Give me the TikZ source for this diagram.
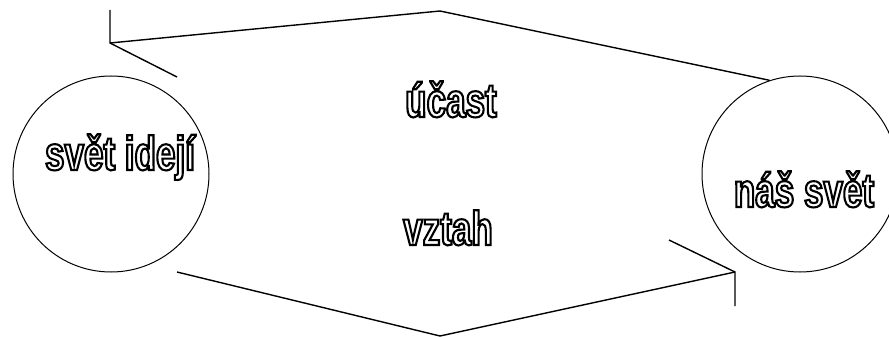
\documentclass[tikz,border=0pt]{standalone}
\usepackage{fontspec}
\newfontfamily\hollowfont{Liberation Sans}[FakeStretch=0.73]
\newcommand{\outlined}[1]{\special{pdf:literal 1 Tr 2.1 w}#1\special{pdf:literal 0 Tr}}

\begin{document}
\begin{tikzpicture}[
    x=1pt, y=-1pt, line width=1.4pt, line join=miter,
    world/.style={circle, draw, line width=1pt, minimum size=196pt, inner sep=0pt},
    hollow/.style={font=\hollowfont\bfseries\fontsize{48pt}{52pt}\selectfont, inner sep=0pt, anchor=base}
]
    \clip (0,0) rectangle (889,337);

    \node[world] (ideas) at (111,174) {};
    \node[world] (ours) at (800,174) {};

    \node[hollow] (ideastext) at (120,170) {\outlined{svět idejí}};
    \node[hollow] (ourstext) at (804,207) {\outlined{náš svět}};
    \node[hollow] (part) at (451,117) {\outlined{účast}};
    \node[hollow] (rel) at (448,245) {\outlined{vztah}};

    % upper connector, pointing to the ideas
    \coordinate (top) at (440,11);
    \coordinate (tipa) at (110,43);
    \coordinate (barba1) at (110,10);
    \coordinate (barba2) at (177,77);
    \draw (ours.108) -- (top) -- (tipa);
    \draw (barba1) -- (tipa) -- (barba2);

    % lower connector, pointing to our world
    \coordinate (ideasout) at (177,272);
    \coordinate (bottom) at (440,336);
    \coordinate (tipb) at (735,272);
    \coordinate (barbb1) at (735,306);
    \coordinate (barbb2) at (669,240);
    \draw (ideasout) -- (bottom) -- (tipb);
    \draw (barbb1) -- (tipb) -- (barbb2);
\end{tikzpicture}
\end{document}
